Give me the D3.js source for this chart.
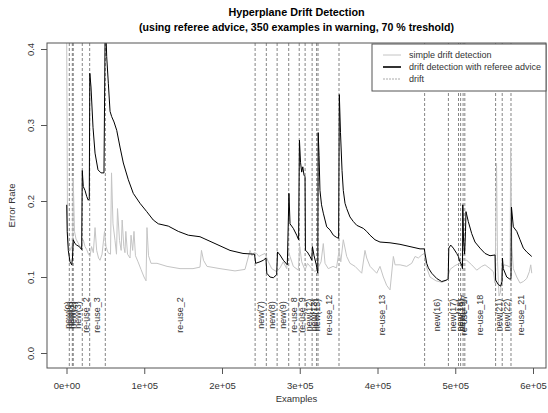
<!DOCTYPE html>
<html>
<head>
<meta charset="utf-8">
<script src="https://cdn.jsdelivr.net/npm/d3@7"></script>
<style>
  body { margin: 0; background: #fff; }
  svg { display: block; font-family: "Liberation Sans", Arial, Helvetica, sans-serif; }
</style>
</head>
<body>
<svg id="chart" width="548" height="413"></svg>
<script>
// x values are in thousands of examples
var titleMain = "Hyperplane Drift Detection"
var titleSub = "(using referee advice, 350 examples in warning, 70 % treshold)"
var xTicks = [0, 100, 200, 300, 400, 500, 600]
var xTickLabels = ["0e+00", "1e+05", "2e+05", "3e+05", "4e+05", "5e+05", "6e+05"]
var yTicks = [0, 0.1, 0.2, 0.3, 0.4]
var yTickLabels = ["0.0", "0.1", "0.2", "0.3", "0.4"]
var dataEnd = 598.4

// drift positions
var drifts = [3.6, 7.5, 8.7, 20.3, 29.8, 49.9, 242.6, 257, 270.9, 285.8, 299.3, 306.9,
  315.9, 321.7, 323.5, 350.5, 460.6, 491.2, 504.2, 506.9, 510.1, 512.3, 551.9, 560.4, 571.7]

// one label per segment between drifts (first from 0, last to the end of data)
var segmentLabels = ["new(0)", "new(1)", "new(2)", "new(3)", "re-use_2", "re-use_3", "re-use_2",
  "new(7)", "new(8)", "new(9)", "re-use_8", "re-use_9", "new(12)", "new(13)", "new(15)",
  "re-use_12", "re-use_13", "new(16)", "new(17)", "new(18)", "new(19)", "re-use_17",
  "re-use_18", "new(21)", "new(22)", "re-use_21"]

var simpleDetection = [
  [0.1, 0.45], [1.3, 0.16], [2.6, 0.14], [4.5, 0.135], [6.4, 0.14], [8.1, 0.135], [8.6, 0.23],
  [10.3, 0.16], [12.2, 0.15], [14.8, 0.145], [17.4, 0.14], [19.9, 0.14], [21.6, 0.149],
  [23.8, 0.14], [26, 0.136], [28.3, 0.13], [30.2, 0.127], [32.2, 0.14], [34.5, 0.132],
  [36.7, 0.165], [38.8, 0.135], [41.2, 0.125], [43.1, 0.122], [45.7, 0.13], [48.9, 0.16],
  [50.8, 0.14], [53.4, 0.132], [56.6, 0.13], [57.9, 0.237], [59.8, 0.17], [62.4, 0.148],
  [64.3, 0.13], [65.6, 0.19], [68.2, 0.148], [70.3, 0.135], [71.6, 0.175], [73.7, 0.14],
  [75.2, 0.132], [76.3, 0.16], [78.5, 0.13], [81.7, 0.125], [83, 0.155], [85.1, 0.135],
  [86.8, 0.16], [88.7, 0.128], [92, 0.12], [95.8, 0.11], [99.7, 0.1], [102.3, 0.095],
  [103.5, 0.165], [105.5, 0.128], [108.7, 0.118], [116.4, 0.118], [129.3, 0.114],
  [146, 0.111], [162.7, 0.111], [171.7, 0.113], [173.6, 0.135], [176.2, 0.122],
  [180.7, 0.114], [197.4, 0.111], [216.7, 0.108], [229.6, 0.11], [233.5, 0.125],
  [236, 0.135], [238.6, 0.128], [241.2, 0.132], [244.6, 0.131], [247.5, 0.127],
  [251.1, 0.129], [255.3, 0.131], [259.6, 0.12], [264, 0.111], [270.3, 0.107],
  [274.6, 0.112], [278.8, 0.12], [283.2, 0.111], [285.3, 0.135], [287.5, 0.127],
  [291.7, 0.114], [298.1, 0.109], [300, 0.14], [302.5, 0.12], [306.8, 0.109],
  [310, 0.118], [313.2, 0.114], [319.6, 0.107], [323.5, 0.112], [327.4, 0.12],
  [330.3, 0.144], [332.5, 0.118], [336.7, 0.111], [342.8, 0.114], [347.3, 0.112],
  [350.6, 0.135], [352.8, 0.12], [356, 0.149], [360.4, 0.127], [364.6, 0.118],
  [371.1, 0.114], [379.7, 0.105], [383.9, 0.135], [386.1, 0.125], [390.4, 0.114],
  [399, 0.105], [403.2, 0.114], [407.5, 0.1], [411.8, 0.089], [416.1, 0.083],
  [420.4, 0.127], [422.6, 0.116], [429, 0.116], [437.6, 0.114], [444, 0.118],
  [448.3, 0.127], [452.5, 0.125], [456.9, 0.129], [460.2, 0.131], [462.4, 0.115],
  [467.5, 0.1], [475.2, 0.095], [482.9, 0.093], [489.4, 0.096], [493.3, 0.11],
  [499.7, 0.115], [506.1, 0.118], [510.4, 0.122], [514.8, 0.122], [521.2, 0.116],
  [527.6, 0.109], [534.1, 0.114], [538.3, 0.116], [544.7, 0.111], [549, 0.107],
  [551.2, 0.092], [553.1, 0.25], [554.4, 0.12], [556.3, 0.075], [558.2, 0.08],
  [560.2, 0.11], [562.7, 0.116], [566.6, 0.115], [570.5, 0.113], [571.3, 0.27],
  [572.8, 0.14], [574.7, 0.111], [579.1, 0.1], [583.3, 0.092], [587.6, 0.094],
  [591.9, 0.098], [595.3, 0.107], [597.1, 0.116], [598.4, 0.105]
]

var refereeDetection = [
  [0.3, 0.195], [0.9, 0.16], [2.3, 0.135], [4.5, 0.12], [6.7, 0.116], [7.7, 0.125],
  [8.7, 0.149], [10.9, 0.144], [13.1, 0.142], [16.5, 0.14], [19.5, 0.136], [20.3, 0.24],
  [21.6, 0.219], [23.8, 0.214], [26, 0.206], [28, 0.201], [29.3, 0.203], [30, 0.368],
  [31.5, 0.35], [34.1, 0.297], [36.7, 0.263], [40.5, 0.241], [44.4, 0.237], [48.2, 0.237],
  [49.9, 0.45], [51.7, 0.39], [53.8, 0.355], [56, 0.318], [58.1, 0.311], [61.1, 0.304],
  [64.6, 0.293], [68.8, 0.271], [73.1, 0.25], [79.5, 0.228], [85.9, 0.21], [94.5, 0.197],
  [103.2, 0.186], [111.6, 0.175], [118.1, 0.17], [130.9, 0.167], [143.8, 0.16],
  [156.7, 0.155], [171.7, 0.153], [178.1, 0.15], [191, 0.144], [210.3, 0.135],
  [227, 0.131], [241.8, 0.13], [243.3, 0.118], [248.9, 0.12], [253.1, 0.122],
  [256.5, 0.125], [257.6, 0.105], [261.7, 0.1], [266, 0.099], [270.3, 0.103],
  [271.4, 0.133], [274.6, 0.129], [278.9, 0.122], [284, 0.116], [286.1, 0.21],
  [287.5, 0.17], [291.7, 0.164], [296.1, 0.155], [298.5, 0.149], [299.6, 0.28],
  [301, 0.251], [302.5, 0.238], [303.9, 0.245], [305.5, 0.234], [306.8, 0.232],
  [307.3, 0.135], [309.7, 0.133], [313.2, 0.127], [315.5, 0.122], [316.3, 0.14],
  [318.4, 0.128], [321.3, 0.116], [323.2, 0.105], [323.7, 0.29], [324.8, 0.26],
  [326, 0.214], [328, 0.195], [330.3, 0.184], [334.7, 0.166], [338.9, 0.162],
  [343.2, 0.155], [347.5, 0.152], [350, 0.151], [350.9, 0.34], [352.4, 0.29],
  [354.4, 0.24], [356, 0.214], [358.2, 0.197], [360.4, 0.19], [364.6, 0.179],
  [368.9, 0.173], [373.3, 0.168], [377.5, 0.166], [381.7, 0.164], [386.1, 0.16],
  [390.4, 0.155], [396.8, 0.149], [403.2, 0.146], [416.1, 0.145], [428.9, 0.143],
  [441.8, 0.14], [454.7, 0.137], [460.2, 0.137], [461.1, 0.131], [463.3, 0.118],
  [465.4, 0.112], [469.7, 0.105], [476.2, 0.098], [482.6, 0.094], [489, 0.096],
  [490.9, 0.098], [491.7, 0.138], [494.2, 0.142], [497.5, 0.138], [501.9, 0.131],
  [504, 0.127], [506.1, 0.12], [508.3, 0.116], [509.3, 0.111], [509.7, 0.195],
  [510.6, 0.15], [512, 0.13], [513.2, 0.16], [513.8, 0.186], [516.8, 0.173],
  [521.2, 0.157], [525.4, 0.146], [531.8, 0.138], [538.3, 0.131], [544.7, 0.128],
  [551.2, 0.129], [551.9, 0.096], [555.4, 0.09], [558.5, 0.088], [560.2, 0.094],
  [560.7, 0.125], [561.8, 0.111], [566.2, 0.1], [570.5, 0.097], [571.7, 0.098],
  [572.3, 0.192], [574.7, 0.166], [579.1, 0.16], [583.3, 0.149], [587.6, 0.138],
  [591.9, 0.133], [598.4, 0.127]
]

var legendNames = ["simple drift detection", "drift detection with referee advice", "drift"]

var box = { left: 47, right: 546, top: 43, bottom: 368 }
var svg = d3.select("#chart")

var x = d3.scaleLinear().domain([0, 600]).range([66.5, 533])
var y = d3.scaleLinear().domain([0, 0.4]).range([353, 49])

svg.append("defs").append("clipPath").attr("id", "plotclip")
  .append("rect").attr("x", box.left).attr("y", box.top)
  .attr("width", box.right - box.left).attr("height", box.bottom - box.top)

// titles
svg.append("text").attr("x", (box.left + box.right) / 2).attr("y", 16)
  .attr("text-anchor", "middle").attr("font-size", 10.8).attr("font-weight", "bold")
  .text(titleMain)
svg.append("text").attr("x", (box.left + box.right) / 2).attr("y", 31)
  .attr("text-anchor", "middle").attr("font-size", 10.6).attr("font-weight", "bold")
  .text(titleSub)

var plot = svg.append("g").attr("clip-path", "url(#plotclip)")

// drift lines
plot.selectAll(".drift").data(drifts).enter().append("line")
  .attr("x1", d => x(d)).attr("x2", d => x(d))
  .attr("y1", box.top).attr("y2", box.bottom)
  .attr("stroke", "#666").attr("stroke-width", 0.8).attr("stroke-dasharray", "3,2")

// segment labels, at the middle of each segment
var bounds = [0].concat(drifts).concat([dataEnd])
plot.selectAll(".seglab").data(segmentLabels).enter().append("text")
  .attr("transform", (d, i) => "translate(" + (x((bounds[i] + bounds[i + 1]) / 2) + 3) + "," + y(0.05) + ") rotate(-90)")
  .attr("text-anchor", "middle").attr("font-size", 9).attr("fill", "#333")
  .text(d => d)

var line = d3.line().x(d => x(d[0])).y(d => y(d[1]))

plot.append("path").datum(simpleDetection).attr("d", line)
  .attr("fill", "none").attr("stroke", "#c4c4c4").attr("stroke-width", 1)
plot.append("path").datum(refereeDetection).attr("d", line)
  .attr("fill", "none").attr("stroke", "#000").attr("stroke-width", 1)

// frame
svg.append("rect").attr("x", box.left).attr("y", box.top)
  .attr("width", box.right - box.left).attr("height", box.bottom - box.top)
  .attr("fill", "none").attr("stroke", "#555").attr("stroke-width", 1)

// x axis
var xa = svg.append("g").attr("transform", "translate(0," + box.bottom + ")")
  .call(d3.axisBottom(x).tickValues(xTicks).tickSize(6).tickPadding(8)
    .tickFormat((d, i) => xTickLabels[i]))
xa.select(".domain").remove()
xa.selectAll("line").attr("stroke", "#555")
xa.selectAll("text").attr("font-size", 9.5).attr("fill", "#333")
  .attr("font-family", "Liberation Sans, Arial, sans-serif")

// y axis
var ya = svg.append("g").attr("transform", "translate(" + box.left + ",0)")
  .call(d3.axisLeft(y).tickValues(yTicks).tickSize(6).tickFormat((d, i) => yTickLabels[i]))
ya.select(".domain").remove()
ya.selectAll("line").attr("stroke", "#555")
ya.selectAll("text").attr("font-size", 9.5).attr("fill", "#333")
  .attr("font-family", "Liberation Sans, Arial, sans-serif")
  .attr("text-anchor", "middle").attr("x", null).attr("dy", null)
  .attr("transform", "translate(-13,0) rotate(-90)")

svg.append("text").attr("x", (box.left + box.right) / 2).attr("y", 402)
  .attr("text-anchor", "middle").attr("font-size", 9.5).attr("fill", "#333").text("Examples")
svg.append("text").attr("transform", "translate(15," + ((box.top + box.bottom) / 2) + ") rotate(-90)")
  .attr("text-anchor", "middle").attr("font-size", 9.5).attr("fill", "#333").text("Error Rate")

// legend
var lg = svg.append("g")
lg.append("rect").attr("x", 372).attr("y", box.top + 1).attr("width", box.right - 372).attr("height", 47)
  .attr("fill", "#fff").attr("stroke", "#555").attr("stroke-width", 1)
var legStroke = ["#c4c4c4", "#000", "#aaa"]
var legDash = [null, null, "2,1"]
legendNames.forEach(function (name, i) {
  var ly = 55 + i * 12
  lg.append("line").attr("x1", 383).attr("x2", 401).attr("y1", ly).attr("y2", ly)
    .attr("stroke", legStroke[i]).attr("stroke-width", i == 1 ? 1.6 : 1)
    .attr("stroke-dasharray", legDash[i])
  lg.append("text").attr("x", 409).attr("y", ly + 3.3).attr("font-size", 9).attr("fill", "#333").text(name)
})
</script>
</body>
</html>
